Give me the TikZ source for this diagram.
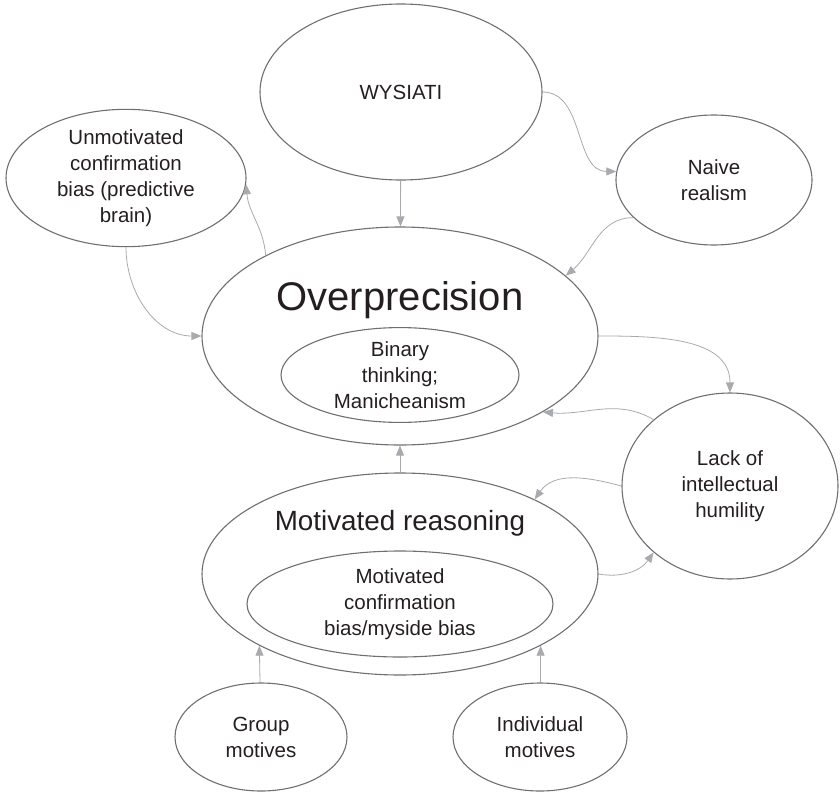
\documentclass[tikz,border=0pt]{standalone}
\usepackage{fontspec}
\setmainfont{Liberation Sans}
\usetikzlibrary{shapes.geometric,arrows.meta}
\definecolor{rimgray}{HTML}{6F6F6F}
\definecolor{linkgray}{HTML}{A9AAAD}
\definecolor{ink}{HTML}{231F20}
\begin{document}
\begin{tikzpicture}[x=1pt, y=1pt, align=center, text=ink,
    main/.style = {draw=rimgray, line width=1.1pt, ellipse, inner sep=0pt, font=\fontsize{20.5}{26}\selectfont},
    label/.style = {anchor=base, inner sep=0pt},
    link/.style = {draw=linkgray, line width=0.8pt, -{Triangle[length=10pt,width=8pt]}}]
            \useasboundingbox (0,0) rectangle (840,-792);
            \node[main, minimum width=282, minimum height=176] (wysiati) at (401,-92) {WYSIATI};
            \node[main, minimum width=240, minimum height=130] (unmot) at (126,-178) {Unmotivated\\confirmation\\bias (predictive\\brain)};
            \node[main, minimum width=196, minimum height=130] (naive) at (714,-180) {Naive\\realism};
            \node[main, minimum width=396, minimum height=218] (overprec) at (400,-336) {};
            \node[label, font=\fontsize{40}{48}\selectfont] (overtext) at (400,-310) {Overprecision};
            \node[main, minimum width=238, minimum height=90] (binary) at (400,-375) {Binary\\thinking;\\Manicheanism};
            \node[main, minimum width=216, minimum height=186] (lack) at (730,-486) {Lack of\\intellectual\\humility};
            \node[main, minimum width=396, minimum height=202] (motiv) at (400,-574) {};
            \node[label, font=\fontsize{27.8}{34}\selectfont] (motivtext) at (400,-530) {Motivated reasoning};
            \node[main, minimum width=306, minimum height=106] (myside) at (400,-604) {Motivated\\confirmation\\bias/myside bias};
            \node[main, minimum width=172, minimum height=108] (group) at (261,-737) {Group\\motives};
            \node[main, minimum width=174, minimum height=108] (indiv) at (540,-737) {Individual\\motives};
            \draw[link] (wysiati) -- (overprec);
            \draw[link] (wysiati.east) to [out=0, in=180] (naive.175);
            \draw[link] (naive.205) to [out=180, in=40] (overprec.20);
            \draw[link] (overprec.east) to [out=0, in=90] (lack.north);
            \draw[link] (lack.139) to [out=150, in=-5] (overprec.-28);
            \draw[link] (lack.west) to [out=165, in=55] (motiv.29);
            \draw[link] (motiv.east) to [out=-10, in=235] (lack.221);
            \draw[link] (motiv) -- (overprec);
            \draw[link] (overprec.149) to [out=95, in=-85] (unmot.-3);
            \draw[link] (unmot.south) to [out=-90, in=180] (overprec.west);
            \draw[link] (group) -- (motiv.207);
            \draw[link] (indiv) -- (motiv.-27);
\end{tikzpicture}
\end{document}
